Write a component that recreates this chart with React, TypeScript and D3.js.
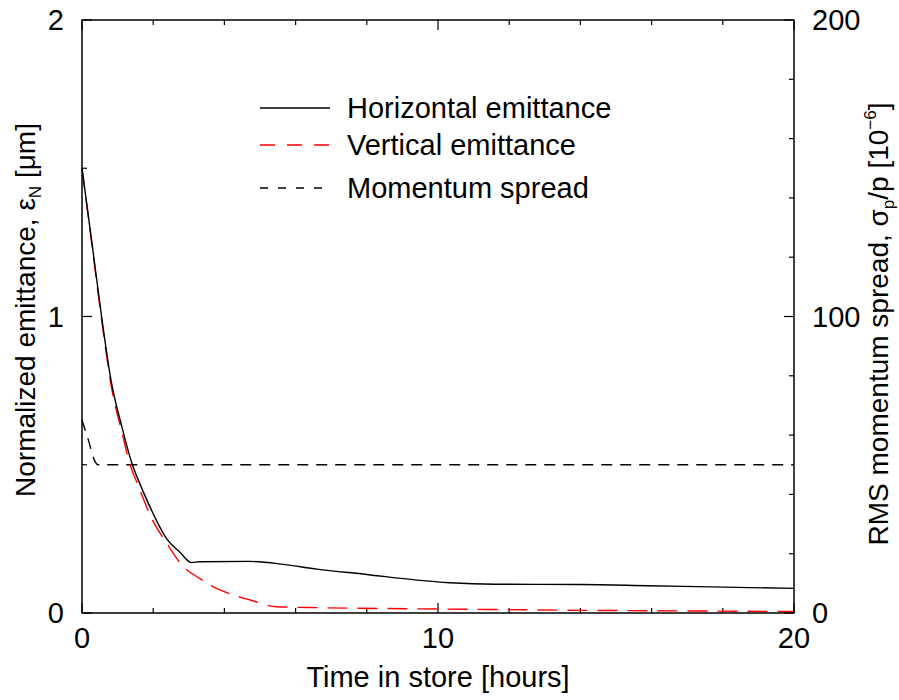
import React, { useEffect, useRef } from 'react';
import * as d3 from 'd3';

// horizontal emittance [um] vs time [hours]
const horizT = [0, 0.27, 0.55, 0.83, 1.12, 1.41, 1.58, 1.91, 2.1, 2.38, 2.75, 3.08, 3.3, 4.7, 5.66, 6.6, 8.0, 9.4, 10.34, 11.6, 14.0, 15.9, 17.7, 20];
const horizV = [1.5, 1.257, 1.0, 0.775, 0.628, 0.502, 0.449, 0.358, 0.31, 0.25, 0.205, 0.17, 0.173, 0.174, 0.164, 0.148, 0.13, 0.111, 0.102, 0.097, 0.096, 0.092, 0.088, 0.083];

// vertical emittance [um]
const vertT = [0, 0.27, 0.55, 0.83, 1.12, 1.35, 1.58, 1.91, 2.38, 2.85, 3.3, 3.78, 4.25, 4.72, 5.47, 6.6, 8.6, 11.4, 14, 17, 20];
const vertV = [1.5, 1.25, 0.99, 0.76, 0.61, 0.5, 0.43, 0.331, 0.235, 0.156, 0.117, 0.083, 0.061, 0.044, 0.021, 0.018, 0.015, 0.012, 0.009, 0.007, 0.005];

// rms momentum spread [1e-6]
const momT = [0, 0.18, 0.37, 0.45, 20];
const momV = [65, 58.3, 51, 50, 50];

const xLabels = [0, 10, 20];
const yLeftLabels = [0, 1, 2];
const yRightLabels = [0, 100, 200];

const legendNames = ['Horizontal emittance', 'Vertical emittance', 'Momentum spread'];

const FONT = '"Liberation Sans", Arial, sans-serif';

export default function App() {
    const ref = useRef<SVGSVGElement>(null);

    useEffect(() => {
        document.body.style.margin = '0';
        const svg = d3.select(ref.current);
        svg.selectAll('*').remove();

        const left = 82, right = 794, top = 20, bottom = 613;

        var x = d3.scaleLinear().domain([0, 20]).range([left, right]);
        var y = d3.scaleLinear().domain([0, 2]).range([bottom, top]);
        var y2 = d3.scaleLinear().domain([0, 200]).range([bottom, top]);

        const g = svg.append('g').style('font-family', FONT);

        // ticks, pointing inwards
        const tick = (x1: number, y1: number, x2: number, y2_: number) => {
            g.append('line')
                .attr('x1', x1).attr('y1', y1).attr('x2', x2).attr('y2', y2_)
                .style('stroke', '#000').style('stroke-width', 1.2);
        };
        d3.range(0, 20.01, 2).forEach((t) => {
            const len = t % 10 === 0 ? 10 : 5;
            tick(x(t), bottom, x(t), bottom - len);
            tick(x(t), top, x(t), top + len);
        });
        d3.range(0, 2.01, 0.5).forEach((v) => {
            const len = v % 1 === 0 ? 10 : 5;
            tick(left, y(v), left + len, y(v));
        });
        d3.range(0, 200.1, 20).forEach((v) => {
            const len = v % 100 === 0 ? 10 : 5;
            tick(right, y2(v), right - len, y2(v));
        });

        // curves
        const toPts = (ts: number[], vs: number[]) => ts.map((t, i) => [t, vs[i]] as [number, number]);
        const line = d3.line<[number, number]>()
            .x((d) => x(d[0]))
            .y((d) => y(d[1]))
            .curve(d3.curveMonotoneX);
        const line2 = d3.line<[number, number]>()
            .x((d) => x(d[0]))
            .y((d) => y2(d[1]))
            .curve(d3.curveMonotoneX);

        g.append('path')
            .attr('d', line2(toPts(momT, momV)))
            .attr('fill', 'none')
            .style('stroke', '#000').style('stroke-width', 1.4)
            .style('stroke-dasharray', '11,8');

        g.append('path')
            .attr('d', line(toPts(vertT, vertV)))
            .attr('fill', 'none')
            .style('stroke', '#ff0000').style('stroke-width', 1.4)
            .style('stroke-dasharray', '20,10');

        g.append('path')
            .attr('d', line(toPts(horizT, horizV)))
            .attr('fill', 'none')
            .style('stroke', '#000').style('stroke-width', 1.4);

        // frame
        g.append('rect')
            .attr('x', left).attr('y', top)
            .attr('width', right - left).attr('height', bottom - top)
            .attr('fill', 'none')
            .style('stroke', '#000').style('stroke-width', 1.5);

        // tick labels
        xLabels.forEach((t) => {
            g.append('text').attr('x', x(t)).attr('y', 648)
                .attr('text-anchor', 'middle').style('font-size', '29px').text(t);
        });
        yLeftLabels.forEach((v) => {
            g.append('text').attr('x', 64).attr('y', y(v) + 10)
                .attr('text-anchor', 'end').style('font-size', '29px').text(v);
        });
        yRightLabels.forEach((v) => {
            g.append('text').attr('x', 812).attr('y', y2(v) + 10)
                .attr('text-anchor', 'start').style('font-size', '29px').text(v);
        });

        // axis titles
        g.append('text').attr('x', x(10)).attr('y', 687)
            .attr('text-anchor', 'middle').style('font-size', '29px')
            .text('Time in store [hours]');

        const lt = g.append('text')
            .attr('transform', 'translate(35,310) rotate(-90)')
            .attr('text-anchor', 'middle').style('font-size', '28px');
        lt.append('tspan').text('Normalized emittance, ε');
        lt.append('tspan').attr('dy', 6).style('font-size', '17px').text('N');
        lt.append('tspan').attr('dy', -6).text(' [μm]');

        const rt = g.append('text')
            .attr('transform', 'translate(888,324) rotate(-90)')
            .attr('text-anchor', 'middle').style('font-size', '28px');
        rt.append('tspan').text('RMS momentum spread, σ');
        rt.append('tspan').attr('dy', 6).style('font-size', '17px').text('p');
        rt.append('tspan').attr('dy', -6).text('/p [10');
        rt.append('tspan').attr('dy', -12).style('font-size', '17px').text('−6');
        rt.append('tspan').attr('dy', 12).text(']');

        // legend
        const legY = [108, 145, 188];
        const legStyles = [
            { c: '#000', dash: 'none' },
            { c: '#ff0000', dash: '15,12' },
            { c: '#000', dash: '8,10' },
        ];
        legendNames.forEach((name, i) => {
            g.append('line')
                .attr('x1', 260).attr('x2', 330)
                .attr('y1', legY[i]).attr('y2', legY[i])
                .style('stroke', legStyles[i].c).style('stroke-width', 1.4)
                .style('stroke-dasharray', legStyles[i].dash);
            g.append('text').attr('x', 347).attr('y', legY[i] + 10)
                .style('font-size', '29px').text(name);
        });
    }, []);

    return (
        <div>
            <svg ref={ref} width={899} height={700} style={{ display: 'block' }}></svg>
        </div>
    );
}
